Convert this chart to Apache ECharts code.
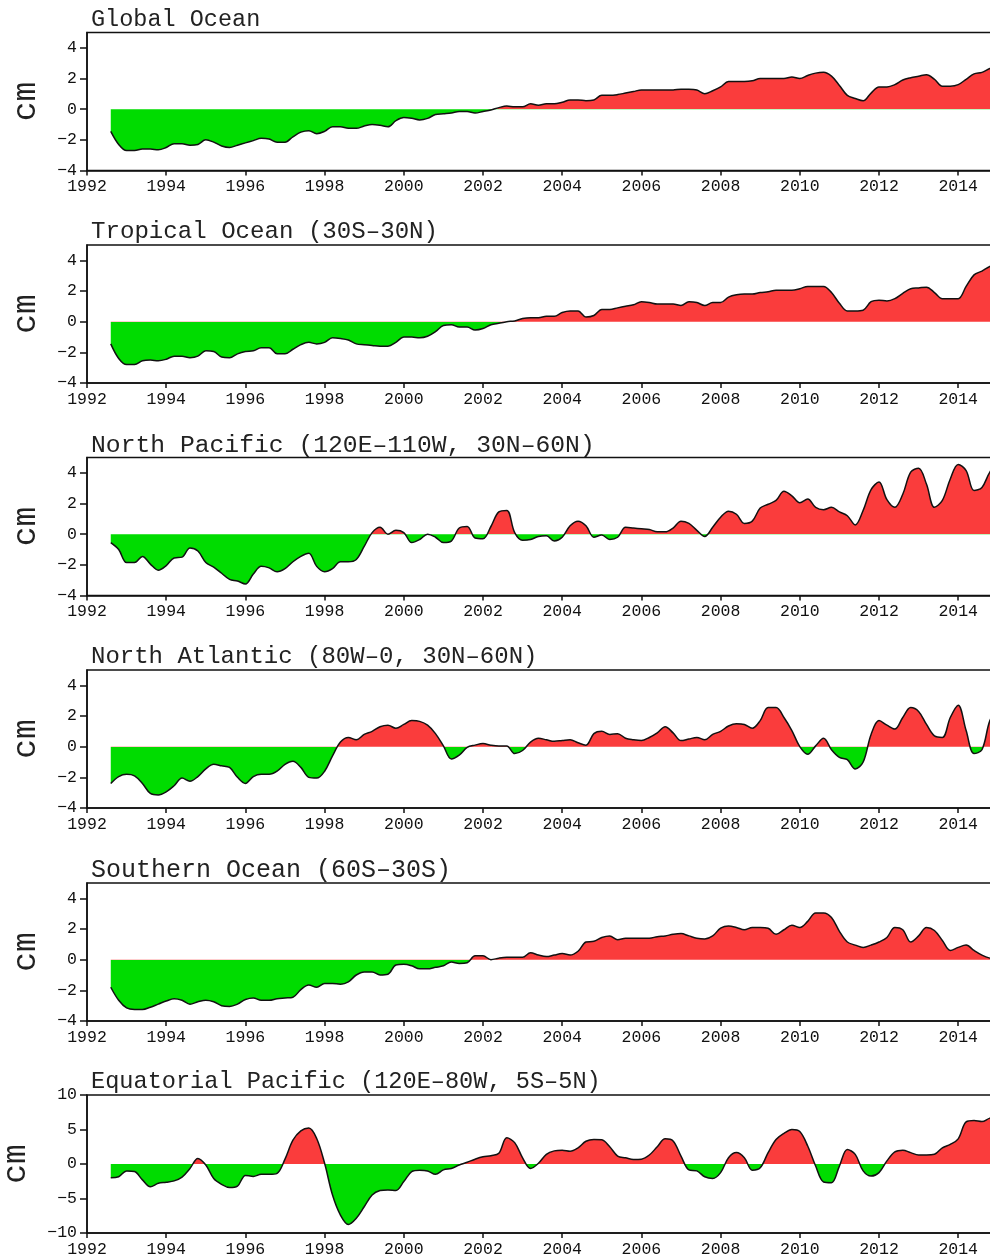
<!DOCTYPE html>
<html>
  <head>
    <meta charset="utf-8">
    <title></title>
    <style media="screen">
    html, body {margin:0; padding:0; background:#fff;}
    #box {width:990px; height:1258px; overflow:hidden;}
    </style>
    <script src="https://cdn.jsdelivr.net/npm/echarts@6/dist/echarts.min.js" charset="utf-8"></script>
    <script>
    const years=[
      1992.6,1992.8,1993.0,1993.2,1993.4,1993.6,1993.8,
      1994.0,1994.2,1994.4,1994.6,1994.8,1995.0,1995.2,1995.4,1995.6,1995.8,
      1996.0,1996.2,1996.4,1996.6,1996.8,1997.0,1997.2,1997.4,1997.6,1997.8,
      1998.0,1998.2,1998.4,1998.6,1998.8,1999.0,1999.2,1999.4,1999.6,1999.8,
      2000.0,2000.2,2000.4,2000.6,2000.8,2001.0,2001.2,2001.4,2001.6,2001.8,
      2002.0,2002.2,2002.4,2002.6,2002.8,2003.0,2003.2,2003.4,2003.6,2003.8,
      2004.0,2004.2,2004.4,2004.6,2004.8,2005.0,2005.2,2005.4,2005.6,2005.8,
      2006.0,2006.2,2006.4,2006.6,2006.8,2007.0,2007.2,2007.4,2007.6,2007.8,
      2008.0,2008.2,2008.4,2008.6,2008.8,2009.0,2009.2,2009.4,2009.6,2009.8,
      2010.0,2010.2,2010.4,2010.6,2010.8,2011.0,2011.2,2011.4,2011.6,2011.8,
      2012.0,2012.2,2012.4,2012.6,2012.8,2013.0,2013.2,2013.4,2013.6,2013.8,
      2014.0,2014.2,2014.4,2014.6,2014.8,2015.0
    ];

    const globalOcean=[
      -1.45,-2.3,-2.7,-2.7,-2.6,-2.6,-2.65,
      -2.5,-2.25,-2.25,-2.35,-2.3,-2.0,-2.15,-2.4,-2.5,-2.35,
      -2.2,-2.05,-1.9,-1.95,-2.15,-2.15,-1.8,-1.5,-1.4,-1.6,
      -1.45,-1.15,-1.15,-1.25,-1.25,-1.1,-1.0,-1.05,-1.15,-0.75,
      -0.55,-0.6,-0.7,-0.6,-0.35,-0.3,-0.25,-0.15,-0.15,-0.25,
      -0.15,-0.05,0.1,0.2,0.15,0.15,0.35,0.25,0.35,0.35,
      0.45,0.6,0.6,0.55,0.6,0.9,0.9,0.95,1.05,1.15,
      1.25,1.25,1.25,1.25,1.25,1.3,1.3,1.25,1.0,1.2,
      1.45,1.8,1.8,1.8,1.85,2.0,2.0,2.0,2.0,2.1,
      2.0,2.2,2.35,2.4,2.15,1.55,0.9,0.7,0.55,1.05,
      1.45,1.45,1.6,1.9,2.05,2.15,2.25,1.95,1.5,1.5,
      1.6,1.95,2.3,2.4,2.65,2.8
    ];
    const tropicalOcean=[
      -1.45,-2.4,-2.8,-2.8,-2.55,-2.5,-2.55,
      -2.45,-2.25,-2.25,-2.35,-2.25,-1.9,-1.95,-2.3,-2.35,-2.1,
      -1.95,-1.9,-1.7,-1.7,-2.1,-2.1,-1.8,-1.5,-1.35,-1.45,
      -1.35,-1.05,-1.1,-1.2,-1.45,-1.5,-1.55,-1.6,-1.6,-1.35,
      -1.0,-1.0,-1.05,-0.95,-0.65,-0.25,-0.2,-0.35,-0.35,-0.55,
      -0.45,-0.2,-0.1,0,0.05,0.2,0.25,0.25,0.35,0.35,
      0.6,0.7,0.7,0.3,0.4,0.8,0.8,0.9,1.0,1.1,
      1.3,1.25,1.15,1.15,1.15,1.05,1.3,1.25,1.05,1.25,
      1.25,1.6,1.75,1.8,1.8,1.9,1.95,2.05,2.05,2.05,
      2.15,2.3,2.3,2.3,1.9,1.2,0.7,0.7,0.75,1.3,
      1.4,1.35,1.5,1.85,2.15,2.2,2.25,1.9,1.5,1.5,
      1.5,2.3,3.05,3.3,3.6,3.8
    ];
    const northPacific=[
      -0.55,-1.0,-1.85,-1.85,-1.45,-1.95,-2.35,
      -2.05,-1.55,-1.5,-0.9,-1.1,-1.85,-2.15,-2.55,-2.95,-3.05,
      -3.25,-2.6,-2.1,-2.2,-2.45,-2.25,-1.8,-1.45,-1.25,-2.1,
      -2.45,-2.25,-1.8,-1.8,-1.65,-0.8,0.1,0.45,0,0.25,
      0.1,-0.55,-0.35,0,-0.2,-0.55,-0.45,0.4,0.5,-0.25,
      -0.3,0.5,1.45,1.55,0.1,-0.4,-0.35,-0.15,-0.1,-0.45,
      -0.2,0.55,0.85,0.55,-0.2,-0.05,-0.35,-0.2,0.45,0.4,
      0.35,0.3,0.15,0.15,0.4,0.85,0.7,0.25,-0.15,0.45,
      1.1,1.5,1.3,0.7,0.85,1.7,1.95,2.2,2.8,2.5,
      2.05,2.3,1.75,1.6,1.75,1.45,1.2,0.6,1.55,2.9,
      3.4,2.25,1.75,2.6,4.05,4.3,3.25,1.75,2.2,3.6,
      4.55,4.15,2.85,3.05,4.05,4.6
    ];
    const northAtlantic=[
      -2.4,-1.95,-1.8,-1.9,-2.4,-3.05,-3.15,
      -2.95,-2.55,-2.05,-2.25,-1.95,-1.45,-1.15,-1.25,-1.35,-2.0,
      -2.4,-1.95,-1.8,-1.8,-1.6,-1.15,-0.95,-1.35,-2.0,-2.05,
      -1.6,-0.6,0.3,0.6,0.45,0.8,1.0,1.3,1.4,1.2,
      1.45,1.7,1.65,1.4,0.85,0.05,-0.8,-0.55,-0.05,0.1,
      0.2,0.1,0.05,0.05,-0.45,-0.25,0.3,0.55,0.45,0.35,
      0.4,0.45,0.25,0.1,0.85,1.0,0.8,0.85,0.55,0.45,
      0.4,0.6,0.9,1.3,0.9,0.4,0.5,0.6,0.45,0.8,
      1.0,1.35,1.5,1.45,1.2,1.7,2.55,2.55,1.9,1.05,
      0,-0.5,0.05,0.55,-0.2,-0.7,-0.85,-1.45,-1.0,0.8,
      1.7,1.4,1.15,1.9,2.55,2.3,1.45,0.7,0.6,1.9,
      2.7,1.05,-0.45,-0.2,1.7,2.5
    ];
    const southernOcean=[
      -1.8,-2.65,-3.15,-3.25,-3.25,-3.1,-2.9,
      -2.7,-2.55,-2.65,-2.9,-2.75,-2.65,-2.75,-3.0,-3.05,-2.9,
      -2.6,-2.5,-2.65,-2.65,-2.55,-2.5,-2.45,-1.95,-1.65,-1.8,
      -1.55,-1.55,-1.6,-1.45,-1.0,-0.8,-0.8,-1.0,-0.95,-0.35,
      -0.3,-0.4,-0.6,-0.6,-0.5,-0.4,-0.15,-0.25,-0.2,0.25,
      0.25,0,0.1,0.15,0.15,0.15,0.45,0.3,0.2,0.3,
      0.4,0.3,0.55,1.15,1.2,1.45,1.55,1.3,1.4,1.4,
      1.4,1.4,1.5,1.55,1.65,1.7,1.55,1.4,1.35,1.55,
      2.05,2.2,2.1,1.95,2.1,2.1,2.05,1.65,1.95,2.25,
      2.1,2.5,3.05,3.05,2.75,1.85,1.15,0.95,0.8,0.95,
      1.15,1.45,2.1,1.95,1.15,1.55,2.1,1.9,1.25,0.6,
      0.8,0.95,0.6,0.3,0.1,0
    ];
    const equatorialPacific=[
      -2.0,-1.85,-1.0,-1.1,-2.3,-3.3,-2.8,
      -2.65,-2.45,-1.9,-0.65,0.8,-0.15,-2.1,-2.95,-3.4,-3.2,
      -1.65,-1.8,-1.5,-1.5,-1.35,0.7,3.45,4.8,5.2,3.7,
      0.1,-4.5,-7.4,-8.75,-7.85,-6.2,-4.5,-3.85,-3.75,-3.85,
      -2.55,-1.1,-0.9,-1.0,-1.5,-0.85,-0.65,-0.15,0.25,0.7,
      1.05,1.2,1.55,3.8,3.1,0.9,-0.65,0.1,1.4,1.9,
      2.0,1.85,2.35,3.3,3.55,3.5,2.5,1.15,0.9,0.65,
      0.7,1.3,2.5,3.65,3.35,1.15,-0.85,-1.0,-1.85,-2.1,
      -1.25,0.9,1.65,0.9,-0.9,-0.55,1.65,3.55,4.45,5.0,
      4.7,2.6,-0.3,-2.6,-2.7,-0.3,2.1,1.4,-1.0,-1.75,
      -1.25,0.45,1.75,2.0,1.65,1.3,1.3,1.4,2.35,2.85,
      3.65,6.1,6.3,6.15,6.65,6.8
    ];

    const panelTitles=[
      'Global Ocean',
      'Tropical Ocean (30S–30N)',
      'North Pacific (120E–110W, 30N–60N)',
      'North Atlantic (80W–0, 30N–60N)',
      'Southern Ocean (60S–30S)',
      'Equatorial Pacific (120E–80W, 5S–5N)'
    ];
    const panelValues=[globalOcean,tropicalOcean,northPacific,northAtlantic,southernOcean,equatorialPacific];
    const xTicks=[1992,1994,1996,1998,2000,2002,2004,2006,2008,2010,2012,2014];
    const yTicks=[-4,-2,0,2,4];
    const yTicksEq=[-10,-5,0,5,10];

    const panelTops=[32.5,245,457.5,670,883,1095];
    const titleSizes=[23.5,24.1,24.7,24,25,23.6];
    const monoFont='"Liberation Mono"';

    window.onload=function (){
      let chart=echarts.init(document.getElementById('box'));
      let grid=[], xAxis=[], yAxis=[], title=[], series=[], visualMap=[];

      panelValues.forEach((values,i)=>{
        let isEq=i==5;
        let ticks=isEq?yTicksEq:yTicks;
        // the plots run off the right edge of the picture, so the grid does too
        grid.push({left:87, top:panelTops[i], width:950.4, height:138, outerBoundsMode:'none', show:true, borderColor:'#111', borderWidth:1.5, backgroundColor:'transparent'});
        title.push({text:panelTitles[i], left:91, top:panelTops[i]-25, padding:0,
          textStyle:{fontFamily:monoFont, fontSize:titleSizes[i], fontWeight:'normal', color:'#222'}});
        xAxis.push({
          type:'value', gridIndex:i, min:1992, max:2016, interval:2,
          splitLine:{show:false},
          axisLine:{onZero:false, lineStyle:{color:'#111', width:1.5}},
          axisTick:{length:5, customValues:xTicks, lineStyle:{color:'#111', width:1.5}},
          axisLabel:{customValues:xTicks, margin:8, fontFamily:monoFont, fontSize:16.5, color:'#111', formatter:v=>String(v)}
        });
        yAxis.push({
          type:'value', gridIndex:i, min:isEq?-10:-4, max:isEq?10:5,
          splitLine:{show:false},
          name:'cm', nameLocation:'middle', nameRotate:90, nameGap:isEq?54:44,
          nameTextStyle:{fontFamily:monoFont, fontSize:33, color:'#222'},
          axisLine:{onZero:false, lineStyle:{color:'#111', width:1.5}},
          axisTick:{length:7, customValues:ticks, lineStyle:{color:'#111', width:1.5}},
          axisLabel:{customValues:ticks, margin:10, fontFamily:monoFont, fontSize:16.5, color:'#111', formatter:v=>String(v).replace('-','−')}
        });
        series.push({
          type:'line', xAxisIndex:i, yAxisIndex:i, showSymbol:false, symbol:'none', silent:true,
          smooth:0.35,
          lineStyle:{color:'#111', width:1.5},
          areaStyle:{opacity:1},
          data:years.map((y,k)=>[y,values[k]])
        });
        // colour the area by sign of the value, pieces need finite bounds for the gradient
        visualMap.push({type:'piecewise', show:false, seriesIndex:i, dimension:1,
          pieces:[{gte:-100,lt:0,color:'#00dc00'},{gte:0,lte:100,color:'#fa3c3c'}]});
      });

      chart.setOption({
        animation:false, backgroundColor:'#fff',
        title, grid, xAxis, yAxis, series, visualMap
      });
    };
    </script>
  </head>
  <body>
    <div id="box"></div>
  </body>
</html>
